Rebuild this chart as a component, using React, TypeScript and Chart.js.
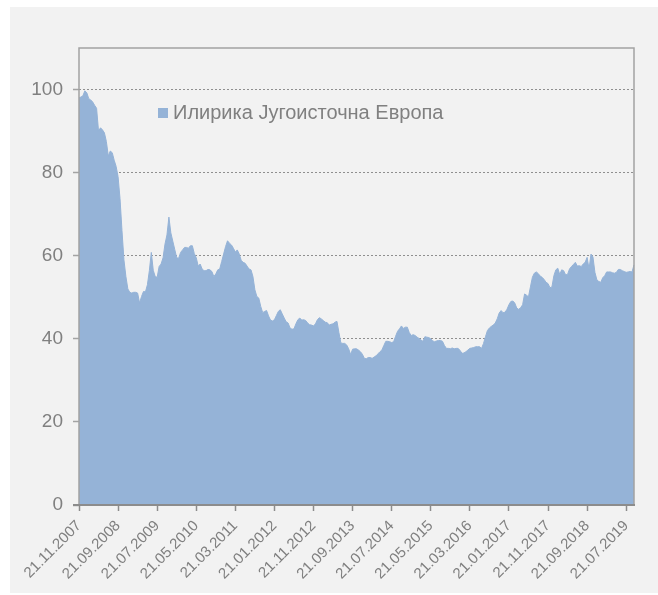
import React, { useEffect, useRef } from 'react';
import { Chart, registerables } from 'chart.js';

Chart.register(...registerables);

const SERIES_NAME = 'Илирика Југоисточна Европа';

// first observation: 21.11.2007, one value every half month
const START_YEAR = 2007;
const START_MONTH = 11;

const Y_TICKS = [0, 20, 40, 60, 80, 100];
const Y_MAX = 110;
const TICK_EVERY = 20; // one labelled tick every 10 months

const VALUES: number[] = [
  98, 98.2, 98.5, 99.7, 99.2, 97.8, 97.5, 97, 96.2, 95.5,
  90, 90.8, 90.3, 89.6, 87.5, 84, 85.2, 84.8, 83, 81.5,
  79, 73.7, 66, 59, 55, 52, 51.2, 51, 51.2, 51.2,
  51, 48.6, 50.2, 51.4, 51.3, 53, 56.4, 60.8, 56.5, 55,
  54.8, 57.4, 58, 59.5, 62.8, 65, 69.3, 65.5, 63.5, 61.5,
  59.5, 59.4, 60.8, 61.4, 62, 62, 61.8, 62.4, 62.4, 60.5,
  59.5, 57.5, 58, 56.8, 56.4, 56.4, 56.7, 56.6, 56.2, 55,
  55.6, 56.6, 56.8, 58.6, 60.4, 62.2, 63.6, 63, 62.6, 61.8,
  60.9, 61.4, 60.4, 58.9, 58.4, 58.2, 57.5, 56.8, 56.6, 55,
  51.8, 50.2, 49.8, 47.8, 46.3, 46.6, 46.8, 45.5, 44.5, 44.3,
  44.6, 45.6, 46.6, 47, 46, 45, 44.1, 43.8, 42.6, 42.3,
  42.4, 43.6, 44.6, 45, 44.5, 44.6, 44.4, 43.8, 43.4, 43.3,
  43.1, 43.6, 44.6, 45.1, 44.8, 44.4, 44, 43.9, 43.3, 43.5,
  43.6, 44, 44.2, 41.5, 39, 38.9, 38.9, 38.5, 37.6, 36.2,
  37.5, 37.6, 37.6, 37.3, 36.9, 36.3, 35.3, 35.2, 35.5, 35.5,
  35.3, 35.6, 35.9, 36.4, 36.9, 37.3, 38.4, 39.4, 39.4, 39.3,
  39.1, 39.3, 40.6, 41.8, 42.4, 43.1, 42.5, 42.8, 42.8, 41.5,
  40.8, 41, 40.8, 40.4, 40.1, 39.7, 39.4, 40.5, 40.4, 40.3,
  40, 39.5, 39.3, 39.5, 39.6, 39.6, 39.4, 38.4, 37.7, 37.7,
  37.6, 37.8, 37.6, 37.7, 37.7, 37.2, 36.5, 36.6, 36.9, 37.3,
  37.7, 37.8, 37.9, 38.1, 38.1, 38.1, 37.7, 38.9, 40.5, 42,
  42.6, 43, 43.3, 43.8, 44.8, 46.2, 46.8, 46.3, 46.4, 47.1,
  48.2, 49, 49.1, 48.6, 47.4, 47.1, 47.5, 48.2, 50.8, 50.5,
  50.1, 52.5, 54.8, 55.8, 56.1, 55.7, 55.1, 54.8, 54.3, 53.6,
  53.3, 52.3, 52.5, 55.2, 56.6, 57, 55.5, 56.6, 56.4, 55.4,
  55.5, 56.8, 57.4, 57.9, 58.4, 57.5, 57.6, 57.4, 58, 58.4,
  59.6, 56.8, 60.4, 59.7, 56, 54.2, 53.8, 53.6, 54.7, 55.2,
  56.1, 56.1, 56.1, 55.9, 55.8, 56, 56.7, 56.7, 56.4, 56.2,
  56, 56.1, 56.2, 56.1, 57.8,
];

const pad2 = (n: number) => (n < 10 ? '0' + n : String(n));

// date label for each half-month observation
const LABELS: string[] = VALUES.map((_, i) => {
  const half = i % 2;
  const monthOffset = (i - half) / 2 + half;
  const total = START_MONTH - 1 + monthOffset;
  const year = START_YEAR + Math.floor(total / 12);
  const month = (total % 12) + 1;
  const day = half ? 6 : 21;
  return pad2(day) + '.' + pad2(month) + '.' + year;
});

const FILL = '#95b3d7';
const TEXT = '#808080';
const FONT = 'Liberation Sans, Arial, sans-serif';

const framePlugin = {
  id: 'frameAndLegend',
  afterDatasetsDraw(chart: any) {
    const { ctx, chartArea } = chart;
    const { left, right, top, bottom } = chartArea;
    ctx.save();
    ctx.setLineDash([]);
    ctx.strokeStyle = '#a3a3a3';
    ctx.lineWidth = 1.5;
    ctx.beginPath();
    ctx.moveTo(left, bottom);
    ctx.lineTo(left, top);
    ctx.lineTo(right, top);
    ctx.lineTo(right, bottom);
    ctx.stroke();
    ctx.strokeStyle = '#8c8c8c';
    ctx.lineWidth = 2;
    ctx.beginPath();
    ctx.moveTo(left - 6, bottom);
    ctx.lineTo(right + 1, bottom);
    ctx.stroke();

    // legend inside the plot
    const lx = left + 79;
    const ly = top + 60;
    ctx.fillStyle = FILL;
    ctx.fillRect(lx, ly, 10, 10);
    ctx.fillStyle = TEXT;
    ctx.font = '20px ' + FONT;
    ctx.textBaseline = 'middle';
    ctx.textAlign = 'left';
    ctx.fillText(SERIES_NAME, lx + 15, ly + 5.5);
    ctx.restore();
  },
};

export default function App() {
  const ref = useRef<HTMLCanvasElement | null>(null);

  useEffect(() => {
    if (!ref.current) return;
    const chart = new Chart(ref.current, {
      type: 'line',
      data: {
        labels: LABELS,
        datasets: [
          {
            label: SERIES_NAME,
            data: VALUES,
            backgroundColor: FILL,
            borderColor: FILL,
            borderWidth: 1,
            fill: 'origin',
            pointRadius: 0,
            tension: 0,
          },
        ],
      },
      options: {
        animation: false,
        responsive: false,
        devicePixelRatio: 1,
        layout: { padding: { left: 0, top: 41, right: 24, bottom: 0 } },
        plugins: {
          legend: { display: false },
          tooltip: { enabled: false },
        },
        scales: {
          x: {
            type: 'category',
            offset: false,
            afterBuildTicks: (scale: any) => {
              scale.ticks = scale.ticks.filter((t: any) => t.value % TICK_EVERY === 0);
            },
            afterFit: (scale: any) => {
              scale.height = 88;
            },
            grid: {
              drawOnChartArea: false,
              drawTicks: true,
              tickLength: 6,
              tickColor: '#8c8c8c',
              tickWidth: 1.5,
              offset: false,
            },
            border: { display: false },
            ticks: {
              autoSkip: false,
              minRotation: 45,
              maxRotation: 45,
              padding: 6,
              color: TEXT,
              font: { family: FONT, size: 15 },
            },
          },
          y: {
            min: 0,
            max: Y_MAX,
            afterBuildTicks: (scale: any) => {
              scale.ticks = Y_TICKS.map((v) => ({ value: v }));
            },
            afterFit: (scale: any) => {
              scale.width = 69;
            },
            grid: {
              color: '#8f8f8f',
              lineWidth: 1,
              tickLength: 6,
              tickColor: '#a3a3a3',
              tickWidth: 1.5,
              tickBorderDash: [],
            },
            border: { display: false, dash: [2, 2] },
            ticks: {
              padding: 10,
              color: TEXT,
              font: { family: FONT, size: 19 },
            },
          },
        },
      },
      plugins: [framePlugin],
    });
    return () => chart.destroy();
  }, []);

  return (
    <div style={{ position: 'absolute', left: 10, top: 7, width: 648, height: 586 }}>
      <canvas
        ref={ref}
        width={648}
        height={586}
        style={{ display: 'block', width: 648, height: 586, background: '#f2f2f2' }}
      />
    </div>
  );
}
